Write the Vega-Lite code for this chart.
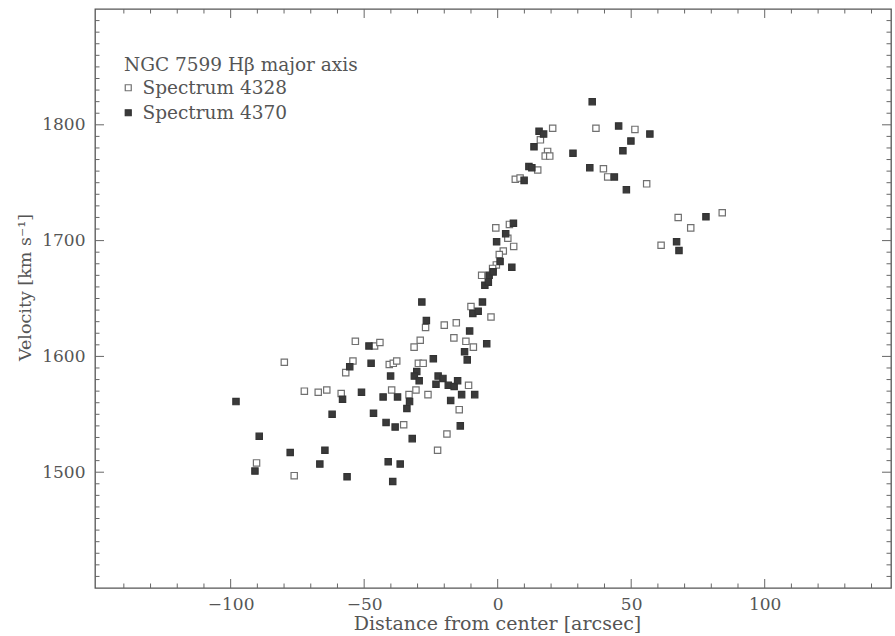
{
  "$schema": "https://vega.github.io/schema/vega-lite/v6.json",
  "width": 796,
  "height": 579,
  "autosize": {"type": "none"},
  "padding": {"left": 95, "top": 9, "right": 4, "bottom": 48},
  "background": "white",
  "config": {
    "view": {"stroke": "#555", "strokeWidth": 1.3},
    "font": "DejaVu Serif",
    "axis": {"labelFont": "DejaVu Serif", "titleFont": "DejaVu Serif", "labelColor": "#555", "titleColor": "#555", "grid": false, "domain": false, "ticks": false, "titleFontWeight": "normal"},
    "legend": {"labelFont": "DejaVu Serif", "titleFont": "DejaVu Serif"}
  },
  "datasets": {
    "xminor": [{"t": -140}, {"t": -130}, {"t": -120}, {"t": -110}, {"t": -90}, {"t": -80}, {"t": -70}, {"t": -60}, {"t": -40}, {"t": -30}, {"t": -20}, {"t": -10}, {"t": 10}, {"t": 20}, {"t": 30}, {"t": 40}, {"t": 60}, {"t": 70}, {"t": 80}, {"t": 90}, {"t": 110}, {"t": 120}, {"t": 130}, {"t": 140}],
    "xmajor": [{"t": -100}, {"t": -50}, {"t": 0}, {"t": 50}, {"t": 100}],
    "yminor": [{"t": 1410}, {"t": 1420}, {"t": 1430}, {"t": 1440}, {"t": 1450}, {"t": 1460}, {"t": 1470}, {"t": 1480}, {"t": 1490}, {"t": 1510}, {"t": 1520}, {"t": 1530}, {"t": 1540}, {"t": 1550}, {"t": 1560}, {"t": 1570}, {"t": 1580}, {"t": 1590}, {"t": 1610}, {"t": 1620}, {"t": 1630}, {"t": 1640}, {"t": 1650}, {"t": 1660}, {"t": 1670}, {"t": 1680}, {"t": 1690}, {"t": 1710}, {"t": 1720}, {"t": 1730}, {"t": 1740}, {"t": 1750}, {"t": 1760}, {"t": 1770}, {"t": 1780}, {"t": 1790}, {"t": 1810}, {"t": 1820}, {"t": 1830}, {"t": 1840}, {"t": 1850}, {"t": 1860}, {"t": 1870}, {"t": 1880}, {"t": 1890}],
    "ymajor": [{"t": 1500}, {"t": 1600}, {"t": 1700}, {"t": 1800}],
    "pts": [
    {"x": -90.3, "v": 1508, "s": "Spectrum 4328"},
    {"x": -79.9, "v": 1595, "s": "Spectrum 4328"},
    {"x": -76.2, "v": 1497, "s": "Spectrum 4328"},
    {"x": -72.4, "v": 1570, "s": "Spectrum 4328"},
    {"x": -67.2, "v": 1569, "s": "Spectrum 4328"},
    {"x": -64.0, "v": 1571, "s": "Spectrum 4328"},
    {"x": -58.6, "v": 1568, "s": "Spectrum 4328"},
    {"x": -56.9, "v": 1586, "s": "Spectrum 4328"},
    {"x": -54.2, "v": 1596, "s": "Spectrum 4328"},
    {"x": -53.3, "v": 1613, "s": "Spectrum 4328"},
    {"x": -46.1, "v": 1609, "s": "Spectrum 4328"},
    {"x": -44.1, "v": 1612, "s": "Spectrum 4328"},
    {"x": -40.6, "v": 1593, "s": "Spectrum 4328"},
    {"x": -39.1, "v": 1594, "s": "Spectrum 4328"},
    {"x": -37.8, "v": 1596, "s": "Spectrum 4328"},
    {"x": -39.7, "v": 1571, "s": "Spectrum 4328"},
    {"x": -35.2, "v": 1541, "s": "Spectrum 4328"},
    {"x": -33.2, "v": 1567, "s": "Spectrum 4328"},
    {"x": -30.6, "v": 1571, "s": "Spectrum 4328"},
    {"x": -31.3, "v": 1608, "s": "Spectrum 4328"},
    {"x": -29.0, "v": 1614, "s": "Spectrum 4328"},
    {"x": -29.7, "v": 1594, "s": "Spectrum 4328"},
    {"x": -27.9, "v": 1594, "s": "Spectrum 4328"},
    {"x": -27.0, "v": 1625, "s": "Spectrum 4328"},
    {"x": -26.1, "v": 1567, "s": "Spectrum 4328"},
    {"x": -22.5, "v": 1519, "s": "Spectrum 4328"},
    {"x": -20.0, "v": 1627, "s": "Spectrum 4328"},
    {"x": -19.0, "v": 1533, "s": "Spectrum 4328"},
    {"x": -15.5, "v": 1629, "s": "Spectrum 4328"},
    {"x": -16.4, "v": 1616, "s": "Spectrum 4328"},
    {"x": -14.4, "v": 1554, "s": "Spectrum 4328"},
    {"x": -10.9, "v": 1575, "s": "Spectrum 4328"},
    {"x": -11.9, "v": 1613, "s": "Spectrum 4328"},
    {"x": -9.1, "v": 1608, "s": "Spectrum 4328"},
    {"x": -2.5, "v": 1634, "s": "Spectrum 4328"},
    {"x": -10.0, "v": 1643, "s": "Spectrum 4328"},
    {"x": -6.0, "v": 1670, "s": "Spectrum 4328"},
    {"x": -0.7, "v": 1711, "s": "Spectrum 4328"},
    {"x": 4.4, "v": 1714, "s": "Spectrum 4328"},
    {"x": 3.8, "v": 1702, "s": "Spectrum 4328"},
    {"x": 6.0, "v": 1695, "s": "Spectrum 4328"},
    {"x": 2.1, "v": 1691, "s": "Spectrum 4328"},
    {"x": 0.6, "v": 1688, "s": "Spectrum 4328"},
    {"x": -0.5, "v": 1679, "s": "Spectrum 4328"},
    {"x": -1.9, "v": 1676, "s": "Spectrum 4328"},
    {"x": 6.6, "v": 1753, "s": "Spectrum 4328"},
    {"x": 8.4, "v": 1754, "s": "Spectrum 4328"},
    {"x": 15.0, "v": 1761, "s": "Spectrum 4328"},
    {"x": 18.7, "v": 1777, "s": "Spectrum 4328"},
    {"x": 17.8, "v": 1773, "s": "Spectrum 4328"},
    {"x": 19.5, "v": 1773, "s": "Spectrum 4328"},
    {"x": 16.0, "v": 1787, "s": "Spectrum 4328"},
    {"x": 20.6, "v": 1797, "s": "Spectrum 4328"},
    {"x": 36.8, "v": 1797, "s": "Spectrum 4328"},
    {"x": 51.4, "v": 1796, "s": "Spectrum 4328"},
    {"x": 39.6, "v": 1762, "s": "Spectrum 4328"},
    {"x": 41.2, "v": 1755, "s": "Spectrum 4328"},
    {"x": 55.8, "v": 1749, "s": "Spectrum 4328"},
    {"x": 67.6, "v": 1720, "s": "Spectrum 4328"},
    {"x": 72.3, "v": 1711, "s": "Spectrum 4328"},
    {"x": 84.1, "v": 1724, "s": "Spectrum 4328"},
    {"x": 61.2, "v": 1696, "s": "Spectrum 4328"},
    {"x": -98.0, "v": 1561, "s": "Spectrum 4370"},
    {"x": -89.3, "v": 1531, "s": "Spectrum 4370"},
    {"x": -90.9, "v": 1501, "s": "Spectrum 4370"},
    {"x": -77.7, "v": 1517, "s": "Spectrum 4370"},
    {"x": -66.6, "v": 1507, "s": "Spectrum 4370"},
    {"x": -64.7, "v": 1519, "s": "Spectrum 4370"},
    {"x": -62.0, "v": 1550, "s": "Spectrum 4370"},
    {"x": -58.1, "v": 1563, "s": "Spectrum 4370"},
    {"x": -56.4, "v": 1496, "s": "Spectrum 4370"},
    {"x": -55.4, "v": 1591, "s": "Spectrum 4370"},
    {"x": -51.0, "v": 1569, "s": "Spectrum 4370"},
    {"x": -48.2, "v": 1609, "s": "Spectrum 4370"},
    {"x": -47.4, "v": 1594, "s": "Spectrum 4370"},
    {"x": -46.5, "v": 1551, "s": "Spectrum 4370"},
    {"x": -42.9, "v": 1565, "s": "Spectrum 4370"},
    {"x": -41.8, "v": 1543, "s": "Spectrum 4370"},
    {"x": -41.0, "v": 1509, "s": "Spectrum 4370"},
    {"x": -38.4, "v": 1539, "s": "Spectrum 4370"},
    {"x": -36.5, "v": 1507, "s": "Spectrum 4370"},
    {"x": -39.3, "v": 1492, "s": "Spectrum 4370"},
    {"x": -40.1, "v": 1583, "s": "Spectrum 4370"},
    {"x": -37.5, "v": 1565, "s": "Spectrum 4370"},
    {"x": -33.0, "v": 1561, "s": "Spectrum 4370"},
    {"x": -34.0, "v": 1555, "s": "Spectrum 4370"},
    {"x": -32.0, "v": 1529, "s": "Spectrum 4370"},
    {"x": -30.3, "v": 1587, "s": "Spectrum 4370"},
    {"x": -31.2, "v": 1583, "s": "Spectrum 4370"},
    {"x": -29.4, "v": 1579, "s": "Spectrum 4370"},
    {"x": -28.4, "v": 1647, "s": "Spectrum 4370"},
    {"x": -26.7, "v": 1631, "s": "Spectrum 4370"},
    {"x": -24.1, "v": 1598, "s": "Spectrum 4370"},
    {"x": -22.3, "v": 1583, "s": "Spectrum 4370"},
    {"x": -20.5, "v": 1581, "s": "Spectrum 4370"},
    {"x": -23.1, "v": 1576, "s": "Spectrum 4370"},
    {"x": -18.5, "v": 1575, "s": "Spectrum 4370"},
    {"x": -16.3, "v": 1574, "s": "Spectrum 4370"},
    {"x": -15.0, "v": 1579, "s": "Spectrum 4370"},
    {"x": -17.6, "v": 1562, "s": "Spectrum 4370"},
    {"x": -14.0, "v": 1540, "s": "Spectrum 4370"},
    {"x": -13.5, "v": 1567, "s": "Spectrum 4370"},
    {"x": -8.6, "v": 1567, "s": "Spectrum 4370"},
    {"x": -12.4, "v": 1604, "s": "Spectrum 4370"},
    {"x": -11.4, "v": 1597, "s": "Spectrum 4370"},
    {"x": -10.5, "v": 1622, "s": "Spectrum 4370"},
    {"x": -4.1, "v": 1611, "s": "Spectrum 4370"},
    {"x": -9.3, "v": 1637, "s": "Spectrum 4370"},
    {"x": -7.3, "v": 1639, "s": "Spectrum 4370"},
    {"x": -5.7, "v": 1647, "s": "Spectrum 4370"},
    {"x": -4.8, "v": 1661.5, "s": "Spectrum 4370"},
    {"x": -3.5, "v": 1664, "s": "Spectrum 4370"},
    {"x": -3.2, "v": 1670, "s": "Spectrum 4370"},
    {"x": -1.7, "v": 1673, "s": "Spectrum 4370"},
    {"x": 0.9, "v": 1682, "s": "Spectrum 4370"},
    {"x": 5.3, "v": 1677, "s": "Spectrum 4370"},
    {"x": -0.4, "v": 1699, "s": "Spectrum 4370"},
    {"x": 3.0, "v": 1706, "s": "Spectrum 4370"},
    {"x": 5.9, "v": 1715, "s": "Spectrum 4370"},
    {"x": 9.9, "v": 1752, "s": "Spectrum 4370"},
    {"x": 11.7, "v": 1764, "s": "Spectrum 4370"},
    {"x": 12.8, "v": 1763, "s": "Spectrum 4370"},
    {"x": 13.6, "v": 1781, "s": "Spectrum 4370"},
    {"x": 15.5, "v": 1794.5, "s": "Spectrum 4370"},
    {"x": 17.2, "v": 1792, "s": "Spectrum 4370"},
    {"x": 28.2, "v": 1775.5, "s": "Spectrum 4370"},
    {"x": 35.4, "v": 1820, "s": "Spectrum 4370"},
    {"x": 34.5, "v": 1763, "s": "Spectrum 4370"},
    {"x": 43.7, "v": 1755, "s": "Spectrum 4370"},
    {"x": 45.3, "v": 1799, "s": "Spectrum 4370"},
    {"x": 49.9, "v": 1786, "s": "Spectrum 4370"},
    {"x": 46.9, "v": 1777.5, "s": "Spectrum 4370"},
    {"x": 48.2, "v": 1744, "s": "Spectrum 4370"},
    {"x": 57.0, "v": 1792, "s": "Spectrum 4370"},
    {"x": 67.0, "v": 1699, "s": "Spectrum 4370"},
    {"x": 67.9, "v": 1691.5, "s": "Spectrum 4370"},
    {"x": 78.0, "v": 1720.6, "s": "Spectrum 4370"}
    ]
  },
  "layer": [
    {
      "data": {"name": "pts"},
      "mark": {"type": "point", "shape": "square", "size": 40, "strokeWidth": 1.2, "opacity": 1},
      "encoding": {
        "x": {"field": "x", "type": "quantitative", "scale": {"domain": [-150.8, 147.3], "nice": false, "zero": false},
          "axis": {"orient": "bottom", "values": [-100, -50, 0, 50, 100], "labelPadding": 8, "labelFontSize": 17, "labelFlush": false,
            "title": "Distance from center [arcsec]", "titleFontSize": 19, "titleX": 402, "titleY": 41, "titleBaseline": "alphabetic", "titleAnchor": "middle"}},
        "y": {"field": "v", "type": "quantitative", "scale": {"domain": [1400, 1900], "nice": false, "zero": false},
          "axis": {"orient": "left", "values": [1500, 1600, 1700, 1800], "format": "d", "labelPadding": 10, "labelFontSize": 17, "labelFlush": false,
            "title": "Velocity [km s⁻¹]", "titleFontSize": 17.5, "titleX": -70, "titleY": 278, "titleAngle": -90, "titleBaseline": "middle", "titleAlign": "center"}},
        "fill": {"field": "s", "type": "nominal", "scale": {"domain": ["Spectrum 4328", "Spectrum 4370"], "range": ["white", "#3a3a3a"]},
          "legend": {"title": "NGC 7599 Hβ major axis", "orient": "none", "legendX": 29, "legendY": 47, "padding": 0, "titleFontSize": 18.5, "titleFontWeight": "normal", "titleColor": "#555", "titleLimit": 400, "labelLimit": 400, "labelFontSize": 18.5, "labelColor": "#555", "symbolSize": 36, "symbolStrokeWidth": 1.2, "rowPadding": 6, "titlePadding": 4, "labelOffset": 5, "symbolOffset": -5, "symbolType": "square"}},
        "stroke": {"field": "s", "type": "nominal", "scale": {"domain": ["Spectrum 4328", "Spectrum 4370"], "range": ["#707070", "#333333"]},
          "legend": {"title": "NGC 7599 Hβ major axis", "orient": "none", "legendX": 29, "legendY": 47, "padding": 0, "titleFontSize": 18.5, "titleFontWeight": "normal", "titleColor": "#555", "titleLimit": 400, "labelLimit": 400, "labelFontSize": 18.5, "labelColor": "#555", "symbolSize": 36, "symbolStrokeWidth": 1.2, "rowPadding": 6, "titlePadding": 4, "labelOffset": 5, "symbolOffset": -5, "symbolType": "square"}}
      }
    },
    {
      "data": {"name": "xminor"},
      "mark": {"type": "tick", "orient": "vertical", "size": 9, "thickness": 1, "color": "#666", "opacity": 1, "clip": true},
      "encoding": {"x": {"field": "t", "type": "quantitative"}, "y": {"datum": 1400, "type": "quantitative"}}
    },
    {
      "data": {"name": "xminor"},
      "mark": {"type": "tick", "orient": "vertical", "size": 9, "thickness": 1, "color": "#666", "opacity": 1, "clip": true},
      "encoding": {"x": {"field": "t", "type": "quantitative"}, "y": {"datum": 1900, "type": "quantitative"}}
    },
    {
      "data": {"name": "xmajor"},
      "mark": {"type": "tick", "orient": "vertical", "size": 18, "thickness": 1, "color": "#666", "opacity": 1, "clip": true},
      "encoding": {"x": {"field": "t", "type": "quantitative"}, "y": {"datum": 1400, "type": "quantitative"}}
    },
    {
      "data": {"name": "xmajor"},
      "mark": {"type": "tick", "orient": "vertical", "size": 18, "thickness": 1, "color": "#666", "opacity": 1, "clip": true},
      "encoding": {"x": {"field": "t", "type": "quantitative"}, "y": {"datum": 1900, "type": "quantitative"}}
    },
    {
      "data": {"name": "yminor"},
      "mark": {"type": "tick", "orient": "horizontal", "size": 9, "thickness": 1, "color": "#666", "opacity": 1, "clip": true},
      "encoding": {"y": {"field": "t", "type": "quantitative"}, "x": {"datum": -150.8, "type": "quantitative"}}
    },
    {
      "data": {"name": "yminor"},
      "mark": {"type": "tick", "orient": "horizontal", "size": 9, "thickness": 1, "color": "#666", "opacity": 1, "clip": true},
      "encoding": {"y": {"field": "t", "type": "quantitative"}, "x": {"datum": 147.3, "type": "quantitative"}}
    },
    {
      "data": {"name": "ymajor"},
      "mark": {"type": "tick", "orient": "horizontal", "size": 18, "thickness": 1, "color": "#666", "opacity": 1, "clip": true},
      "encoding": {"y": {"field": "t", "type": "quantitative"}, "x": {"datum": -150.8, "type": "quantitative"}}
    },
    {
      "data": {"name": "ymajor"},
      "mark": {"type": "tick", "orient": "horizontal", "size": 18, "thickness": 1, "color": "#666", "opacity": 1, "clip": true},
      "encoding": {"y": {"field": "t", "type": "quantitative"}, "x": {"datum": 147.3, "type": "quantitative"}}
    }
  ]
}
